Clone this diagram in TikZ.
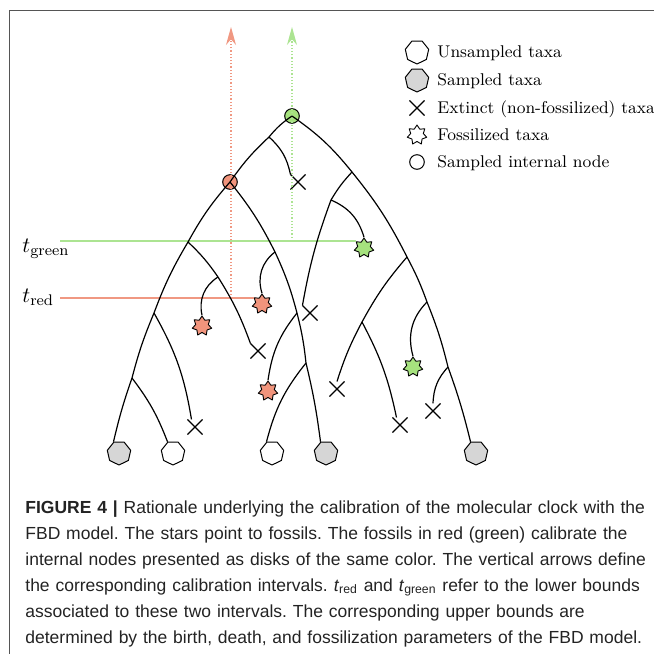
\documentclass[tikz,border=0pt]{standalone}
\usepackage{fontspec}
\usetikzlibrary{shapes.geometric,shapes.misc,arrows.meta}

\newfontfamily\capfont{Liberation Sans}

\definecolor{redfos}{RGB}{241,148,124}
\definecolor{greenfos}{RGB}{166,226,126}
\definecolor{redline}{RGB}{240,152,130}
\definecolor{greenline}{RGB}{172,228,146}
\definecolor{leafgray}{RGB}{214,214,214}
\definecolor{framegray}{RGB}{85,85,85}
\definecolor{captext}{RGB}{35,35,35}

\tikzset{
    taxon/.style={draw,regular polygon,regular polygon sides=7,shape border rotate=180,
        minimum size=12pt,inner sep=0pt,line width=.5pt},
    sampled/.style={taxon,fill=leafgray},
    extinct/.style={draw,cross out,minimum size=7pt,inner sep=0pt,line width=.55pt},
    fossil/.style={draw,star,star points=7,star point ratio=1.55,minimum size=10pt,
        inner sep=0pt,line width=.45pt},
    calib/.style={draw,circle,minimum size=7.3pt,inner sep=0pt,line width=.5pt},
    branch/.style={line width=.6pt},
    bound/.style={line width=.75pt},
    interval/.style={line width=.6pt,densely dotted,->},
    keytext/.style={anchor=west,text height=1.6ex,text depth=.25ex,inner sep=0pt,
        font=\fontsize{8.5}{10}\selectfont},
}

\begin{document}
\begin{tikzpicture}[x=.5pt,y=.5pt,>={Stealth[length=9pt,width=5pt]},line join=round]
    \useasboundingbox (0,0) rectangle (654,-654);
    \draw [framegray,line width=.7pt] (654,-10.5) -- (9.5,-10.5) -- (9.5,-654);

    % branching points of the tree
    \coordinate (g)  at (292,-116);
    \coordinate (a1) at (269,-137);
    \coordinate (r)  at (230,-182);
    \coordinate (b1) at (188,-242);
    \coordinate (b2) at (154,-313);
    \coordinate (b3) at (132,-378);
    \coordinate (b4) at (218,-277);
    \coordinate (c1) at (275,-252);
    \coordinate (c2) at (297,-313);
    \coordinate (c3) at (306,-363);
    \coordinate (n1) at (352,-172);
    \coordinate (n2) at (331,-200);
    \coordinate (d1) at (407,-257);
    \coordinate (d2) at (427,-302);
    \coordinate (d3) at (448,-367);
    \coordinate (e1) at (362,-322);

    % calibrated internal nodes, under the branches
    \node [calib,fill=greenfos] (G) at (g) {};
    \node [calib,fill=redfos] (R) at (r) {};

    % tips
    \node [sampled] (L1) at (119,-453) {};
    \node [taxon]   (L2) at (173,-453) {};
    \node [taxon]   (L3) at (272,-453) {};
    \node [sampled] (L4) at (326,-453) {};
    \node [sampled] (L5) at (476,-453) {};
    \node [extinct] (X1) at (298,-182) {};
    \node [extinct] (X2) at (195,-427) {};
    \node [extinct] (X3) at (258,-351) {};
    \node [extinct] (X4) at (310,-313) {};
    \node [extinct] (X5) at (337,-389) {};
    \node [extinct] (X6) at (400,-425) {};
    \node [extinct] (X7) at (433,-411) {};
    \node [fossil,fill=redfos]   (F1) at (202,-326) {};
    \node [fossil,fill=redfos]   (F2) at (262,-304) {};
    \node [fossil,fill=redfos]   (F3) at (268,-391) {};
    \node [fossil,fill=greenfos] (F4) at (364,-248) {};
    \node [fossil,fill=greenfos] (F5) at (413,-367) {};

    % lower bounds and calibration intervals
    \node [anchor=base west,inner sep=0pt,font=\fontsize{11}{13}\selectfont] (tgreen) at (22,-252) {$t_{\mathrm{green}}$};
    \node [anchor=base west,inner sep=0pt,font=\fontsize{11}{13}\selectfont] (tred) at (22,-302) {$t_{\mathrm{red}}$};
    \coordinate (tgreenL) at (60,-241);
    \coordinate (tredL) at (60,-298);
    \coordinate (top) at (0,-27);
    \draw [greenline,bound] (tgreenL) -- (tgreenL -| F4.west);
    \draw [redline,bound] (tredL) -- (tredL -| F2.west);
    \draw [greenline,interval] (g |- tgreenL) -- (g |- top);
    \draw [redline,interval] (231,-298) -- (231,-27);

    % left clade
    \draw [branch] (g) to[bend right=8] (a1) to[bend right=6] (r)
        to[bend right=6] (b1) to[bend right=5] (b2) to[bend right=4] (b3) to[bend right=3] (L1.116);
    \draw [branch] (a1) to[bend left=18] (X1.north west);
    \draw [branch] (b3) to[bend left=8] (L2.116);
    \draw [branch] (b2) to[bend left=10] (X2.115);
    \draw [branch] (b1) to[bend left=6] (b4) to[bend left=6] (X3.north west);
    \draw [branch] (b4) to[bend right=35] (F1.north);
    \draw [branch] (r) to[bend left=6] (c1) to[bend left=5] (c2) to[bend left=4] (c3) to[bend left=3] (L4.116);
    \draw [branch] (c1) to[bend right=35] (F2.north);
    \draw [branch] (c2) to[bend right=15] (F3.north);
    \draw [branch] (c3) to[bend right=12] (L3.116);

    % right clade
    \draw [branch] (g) to[bend left=8] (n1) to[bend left=6] (d1) to[bend left=4] (d2)
        to[bend left=4] (d3) to[bend left=3] (L5.116);
    \draw [branch] (n1) to[bend right=6] (n2) to[bend right=5] (X4.north west);
    \draw [branch] (n2) to[bend left=25] (F4.north);
    \draw [branch] (d1) to[bend right=6] (e1) to[bend right=5] (X5.north);
    \draw [branch] (e1) to[bend left=8] (X6.115);
    \draw [branch] (d2) to[bend right=30] (F5.north);
    \draw [branch] (d3) to[bend right=20] (X7.north);

    % legend
    \node [taxon]   (k1) at (417,-52) {};
    \node [sampled] (k2) at (417,-80) {};
    \node [extinct] (k3) at (417,-108) {};
    \node [fossil]  (k4) at (417,-135) {};
    \node [calib]   (k5) at (417,-162) {};
    \node [keytext] (k1t) at (437,-52) {Unsampled taxa};
    \node [keytext] (k2t) at (437,-80) {Sampled taxa};
    \node [keytext] (k3t) at (437,-108) {Extinct (non-fossilized) taxa};
    \node [keytext] (k4t) at (437,-135) {Fossilized taxa};
    \node [keytext] (k5t) at (437,-162) {Sampled internal node};

    % caption
    \node [anchor=base west,inner sep=0pt,text width=320pt,align=left,text=captext,
        font=\capfont\frenchspacing\fontsize{8.75}{13}\selectfont] (caption) at (25,-513)
        {\textbf{FIGURE 4 |} Rationale underlying the calibration of the molecular clock with the\\
        FBD model. The stars point to fossils. The fossils in red (green) calibrate the\\
        internal nodes presented as disks of the same color. The vertical arrows define\\
        the corresponding calibration intervals. \textit{t}\textsubscript{red} and \textit{t}\textsubscript{green} refer to the lower bounds\\
        associated to these two intervals. The corresponding upper bounds are\\
        determined by the birth, death, and fossilization parameters of the FBD model.};
\end{tikzpicture}
\end{document}
